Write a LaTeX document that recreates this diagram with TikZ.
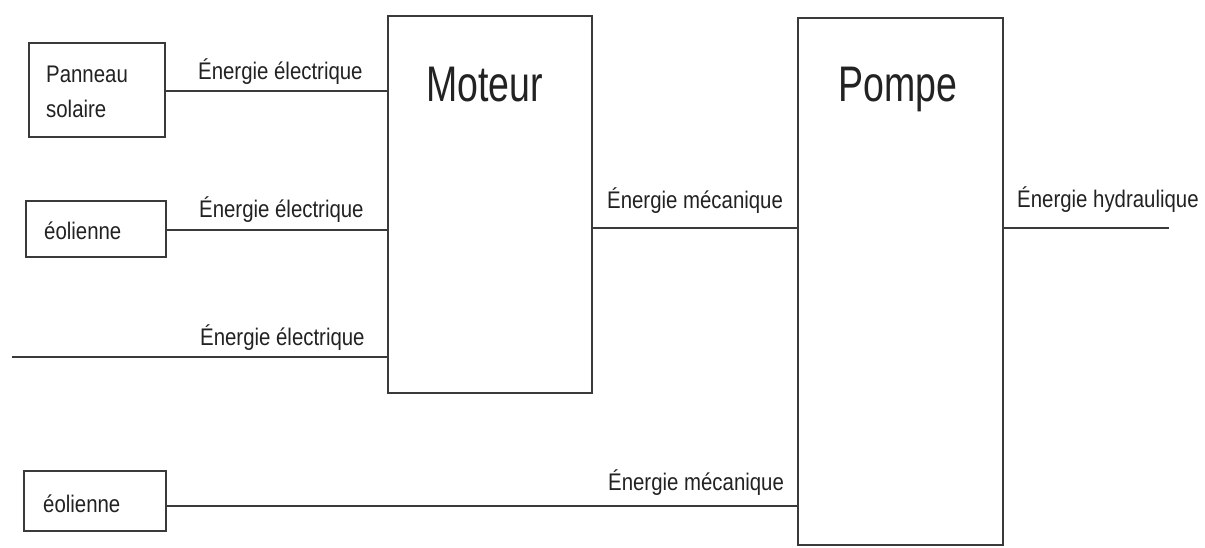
\documentclass[tikz,border=0pt]{standalone}
\usepackage{fontspec}
\setmainfont{Liberation Sans}
\newfontfamily\labfont[FakeStretch=0.85]{Liberation Sans}
\newfontfamily\titlefont[FakeStretch=0.75]{Liberation Sans}
\definecolor{ink}{HTML}{222222}
\definecolor{edge}{HTML}{3A3A3A}
\begin{document}
\begin{tikzpicture}[x=1pt,y=-1pt,
  box/.style={draw=edge,line width=1.8pt,rectangle,inner sep=0pt,fill=white},
  lab/.style={anchor=base west,inner sep=0pt,text=ink,font=\labfont\fontsize{24}{28}\selectfont},
  ttl/.style={anchor=base west,inner sep=0pt,text=ink,font=\titlefont\fontsize{50}{56}\selectfont},
  wire/.style={draw=edge,line width=1.8pt}]
\useasboundingbox[fill=white] (0,0) rectangle (1205,548);
% boxes
\node[box,minimum width=136pt,minimum height=94pt] (pan) at (97,90) {};
\node[box,minimum width=140pt,minimum height=56pt] (eol1) at (96,229) {};
\node[box,minimum width=142pt,minimum height=60pt] (eol2) at (95,501) {};
\node[box,minimum width=204pt,minimum height=377pt] (mot) at (490,204.5) {};
\node[box,minimum width=205pt,minimum height=527pt] (pom) at (900.5,281.5) {};
% box texts
\node[lab] (tpan1) at (46,83) {Panneau};
\node[lab] (tpan2) at (46,118) {solaire};
\node[lab] (teol1) at (44,240) {éolienne};
\node[lab] (teol2) at (43,512) {éolienne};
\node[ttl] (tmot) at (426,102) {Moteur};
\node[ttl] (tpom) at (838,102) {Pompe};
% helper coordinates
\coordinate (c3) at (12,357);
\coordinate (ym) at (0,228);
\coordinate (yb) at (0,506);
\coordinate (hend) at (1169,228);
% connectors
\draw[wire] (pan.east |- 0,91) -- (mot.west |- 0,91);
\draw[wire] (eol1.east |- 0,230) -- (mot.west |- 0,230);
\draw[wire] (c3) -- (c3 -| mot.west);
\draw[wire] (mot.east |- ym) -- (pom.west |- ym);
\draw[wire] (pom.east |- hend) -- (hend);
\draw[wire] (eol2.east |- yb) -- (pom.west |- yb);
% connector labels
\node[lab] (l1) at (198,80) {Énergie électrique};
\node[lab] (l2) at (199,218) {Énergie électrique};
\node[lab] (l3) at (200,345) {Énergie électrique};
\node[lab] (l4) at (607,209) {Énergie mécanique};
\node[lab] (l5) at (1017,208) {Énergie hydraulique};
\node[lab] (l6) at (608,490) {Énergie mécanique};
\end{tikzpicture}
\end{document}
